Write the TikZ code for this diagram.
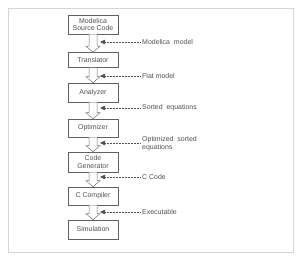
\documentclass[tikz,border=0pt]{standalone}
\usepackage{fontspec}
\setmainfont{Liberation Sans}
\usetikzlibrary{arrows.meta,calc}
\definecolor{txt}{HTML}{505050}
\definecolor{frm}{HTML}{D6D6D6}
\begin{document}
\begin{tikzpicture}[x=1bp,y=-1bp,
  stage/.style={draw=txt!90,line width=0.6bp,minimum width=50bp,inner sep=1bp,align=center,font=\fontsize{7}{7.6}\selectfont,text=txt},
  lbl/.style={anchor=west,align=left,font=\fontsize{7}{7.6}\selectfont,text=txt,inner sep=0pt},
  flow/.style={draw=txt!80,line width=0.5bp,fill=white},
  feed/.style={densely dotted,draw=txt,line width=0.5bp,-{Triangle[length=5bp,width=4.5bp]}}]
\useasboundingbox (0,0) rectangle (300,257);
\draw[frm,line width=0.7bp] (8,8) rectangle (293,252);
\node[stage,minimum height=19bp] (s1) at (93,24.5) {Modelica\\Source Code};
\node[stage,minimum height=15bp] (s2) at (93,60) {Translator};
\node[stage,minimum height=19bp] (s3) at (93,92.5) {Analyzer};
\node[stage,minimum height=18bp] (s4) at (93,128) {Optimizer};
\node[stage,minimum height=20bp] (s5) at (93,162) {Code\\Generator};
\node[stage,minimum height=18bp] (s6) at (93,196) {C Compiler};
\node[stage,minimum height=19bp] (s7) at (93,229.5) {Simulation};
\foreach \a/\b in {s1/s2,s2/s3,s3/s4,s4/s5,s5/s6,s6/s7}{
  \path (\a.south) coordinate (t) (\b.north) coordinate (h);
  \draw[flow] ($(t)+(-4,0)$) -- ($(h)+(-4,-6)$) -- ($(h)+(-7,-6)$) -- (h) -- ($(h)+(7,-6)$) -- ($(h)+(4,-6)$) -- ($(t)+(4,0)$);
}
\node[lbl] (l1) at (142,42) {Modelica\ \ model};
\node[lbl] (l2) at (142,76) {Flat model};
\node[lbl] (l3) at (142,108) {Sorted\ \ equations};
\node[lbl] (l4) at (142,143.5) {Optimized\ \ sorted\\equations};
\node[lbl] (l5) at (142,177) {C Code};
\node[lbl] (l6) at (142,212) {Executable};
\foreach \l/\y in {l1/42,l2/76,l3/108,l4/143,l5/177,l6/212}{
  \coordinate (e\l) at (100,\y);
  \draw[feed] (\l.west|-e\l) ++(-2,0) -- (e\l);
}
\end{tikzpicture}
\end{document}
